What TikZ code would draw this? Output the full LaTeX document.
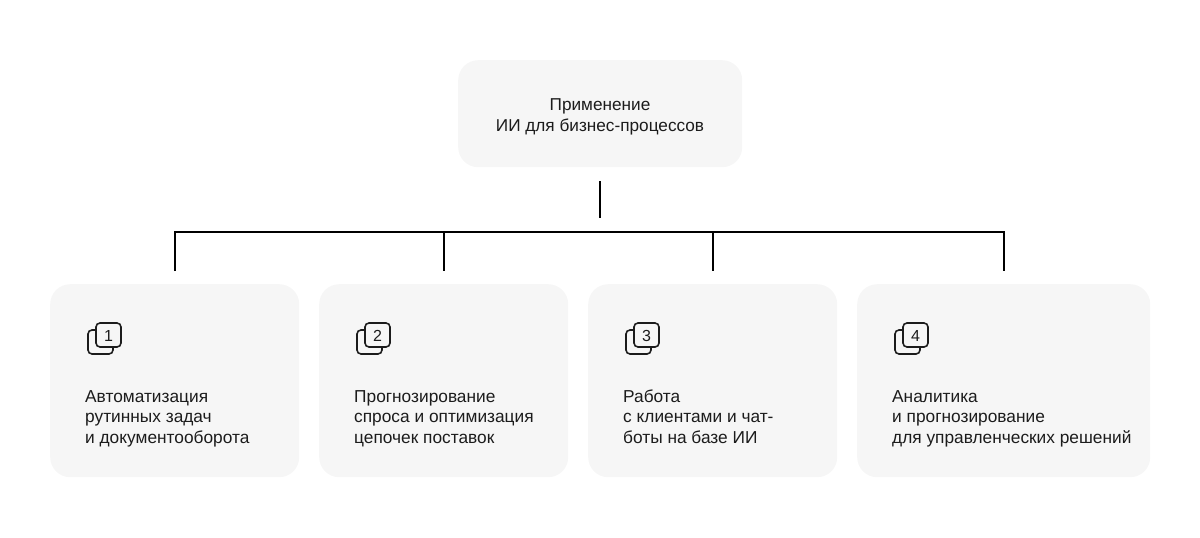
\documentclass[tikz,border=0pt]{standalone}
\usepackage{fontspec}
\setmainfont{Liberation Sans}
\usetikzlibrary{calc}
\definecolor{boxgrey}{RGB}{246,246,246}
\definecolor{ink}{RGB}{28,28,28}
\tikzset{
  card/.style={fill=boxgrey, draw=none, rounded corners=20pt, inner sep=0pt},
  conn/.style={draw=black, line width=2pt},
  lbl/.style={font=\fontsize{17.3}{20.5}\selectfont, text=ink, align=left, inner sep=0pt, anchor=base west},
  toplbl/.style={font=\fontsize{17.2}{21}\selectfont, text=ink, align=center, inner sep=0pt, anchor=base},
  iconline/.style={draw=ink, line width=1.6pt, rounded corners=4pt},
  digit/.style={font=\fontsize{16}{16}\selectfont, text=ink, inner sep=0pt}
}
\begin{document}
\begin{tikzpicture}[x=1pt,y=-1pt]
\useasboundingbox (0,0) rectangle (1200,538);
% top box
\node[card, minimum width=284pt, minimum height=107pt, anchor=north west] (top) at (458,60) {};
\node[toplbl] (toptext) at (600,131) {Применение\\ИИ для бизнес-процессов};
% cards
\node[card, minimum width=249pt, minimum height=193pt, anchor=north west] (b1) at (50,284) {};
\node[card, minimum width=249pt, minimum height=193pt, anchor=north west] (b2) at (319,284) {};
\node[card, minimum width=249pt, minimum height=193pt, anchor=north west] (b3) at (588,284) {};
\node[card, minimum width=293pt, minimum height=193pt, anchor=north west] (b4) at (857,284) {};
% connectors
\coordinate (barY) at (0,232);
\coordinate (stubTop) at ($(top.south)+(0,14)$);
\coordinate (stubBot) at ($(top.south)+(0,51)$);
\draw[conn] (stubTop) -- (stubBot);
\draw[conn] ($(b1.north)+(0,-13)$) |- (b4.north |- barY) -- ($(b4.north)+(0,-13)$);
\draw[conn] (b2.north |- barY) -- ($(b2.north)+(0,-13)$);
\draw[conn] (b3.north |- barY) -- ($(b3.north)+(0,-13)$);
% icons and labels
\foreach \b/\n/\txt in {b1/1/{Автоматизация\\рутинных задач\\и документооборота},
                        b2/2/{Прогнозирование\\спроса и оптимизация\\цепочек поставок},
                        b3/3/{Работа\\с клиентами и чат-\\боты на базе ИИ},
                        b4/4/{Аналитика\\и прогнозирование\\для управленческих решений}}{
  \draw[iconline] ($(\b.north west)+(46,46)$) -- ($(\b.north west)+(38,46)$) -- ($(\b.north west)+(38,70)$) -- ($(\b.north west)+(63,70)$) -- ($(\b.north west)+(63,63)$);
  \draw[iconline] ($(\b.north west)+(46,39)$) rectangle ($(\b.north west)+(71,63)$);
  \node[digit] (\b d) at ($(\b.north west)+(58.5,51.5)$) {\n};
  \node[lbl] (\b t) at ($(\b.north west)+(35,159)$) {\txt};
}
\end{tikzpicture}
\end{document}
